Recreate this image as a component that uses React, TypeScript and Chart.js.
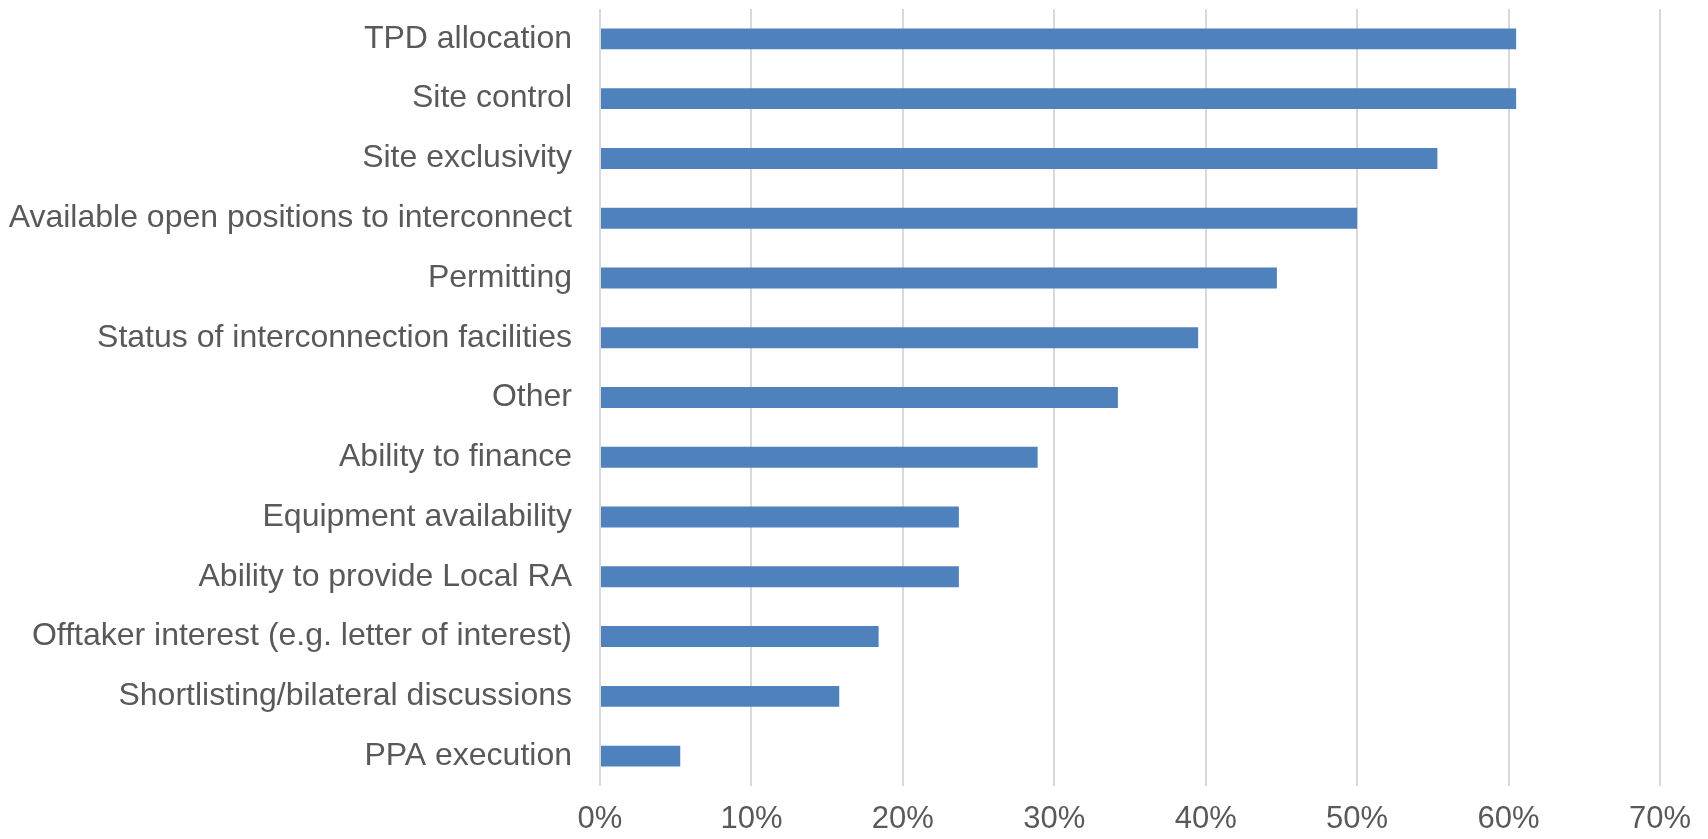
import React, { useEffect, useRef } from "react";
import { Chart, registerables } from "chart.js";

Chart.register(...registerables);

const categories = [
  "TPD allocation",
  "Site control",
  "Site exclusivity",
  "Available open positions to interconnect",
  "Permitting",
  "Status of interconnection facilities",
  "Other",
  "Ability to finance",
  "Equipment availability",
  "Ability to provide Local RA",
  "Offtaker interest (e.g. letter of interest)",
  "Shortlisting/bilateral discussions",
  "PPA execution",
];

const shares = [60.5, 60.5, 55.3, 50.0, 44.7, 39.5, 34.2, 28.9, 23.7, 23.7, 18.4, 15.8, 5.3];

const xTicks = [0, 10, 20, 30, 40, 50, 60, 70];

const FONT = "'Liberation Sans', Arial, sans-serif";
const TEXT = "#595959";

export default function App() {
  const ref = useRef<HTMLCanvasElement | null>(null);

  useEffect(() => {
    document.body.style.margin = "0";
    const ctx = ref.current!.getContext("2d")!;
    const chart = new Chart(ctx, {
      type: "bar",
      data: {
        labels: categories,
        datasets: [
          {
            data: shares,
            backgroundColor: "#4F81BD",
            borderWidth: 0,
            categoryPercentage: 0.7,
            barPercentage: 0.5,
          },
        ],
      },
      options: {
        indexAxis: "y",
        animation: false,
        responsive: false,
        maintainAspectRatio: false,
        layout: { padding: { top: 9, right: 48, bottom: 0, left: 0 } },
        plugins: { legend: { display: false }, tooltip: { enabled: false } },
        scales: {
          x: {
            min: xTicks[0],
            max: xTicks[xTicks.length - 1],
            afterBuildTicks: (scale: any) => {
              scale.ticks = xTicks.map((v) => ({ value: v }));
            },
            afterFit: (scale: any) => {
              scale.height = 53;
              scale.paddingLeft = 0;
              scale.paddingRight = 0;
            },
            grid: { color: "#D9D9D9", lineWidth: 2, drawTicks: false },
            border: { display: false },
            ticks: {
              padding: 15,
              color: TEXT,
              font: { family: FONT, size: 31 },
              callback: (v: any) => v + "%",
            },
          },
          y: {
            grid: { display: false },
            border: { display: false },
            afterFit: (scale: any) => {
              scale.width = 600;
              scale.paddingTop = 0;
              scale.paddingBottom = 0;
            },
            ticks: {
              padding: 20,
              color: TEXT,
              font: { family: FONT, size: 32 },
              autoSkip: false,
            },
          },
        },
      },
    });
    return () => chart.destroy();
  }, []);

  return (
    <div style={{ position: "absolute", left: 0, top: 0, width: 1708, height: 839, background: "#fff" }}>
      <canvas ref={ref} width={1708} height={839} />
    </div>
  );
}
